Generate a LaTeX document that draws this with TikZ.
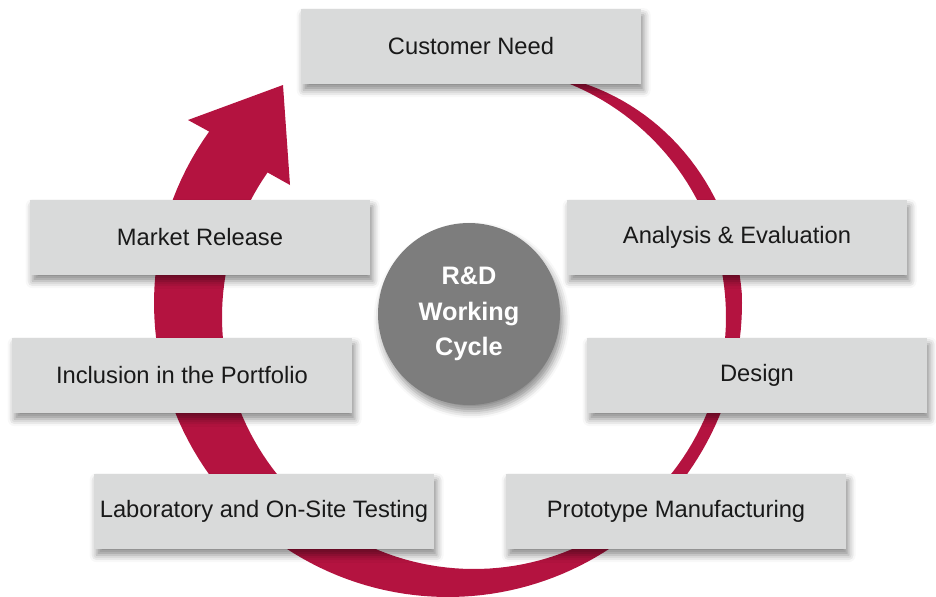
\documentclass[tikz,border=0pt]{standalone}
\usepackage{fontspec}
\setmainfont{Liberation Sans}
\usetikzlibrary{shadows.blur}
\pgfdeclarelayer{background}
\pgfsetlayers{background,main}
\definecolor{ringred}{RGB}{180,19,64}
\definecolor{boxgrey}{RGB}{217,218,218}
\definecolor{hubgrey}{RGB}{125,125,125}
\definecolor{textblack}{RGB}{25,25,25}

\begin{document}
\begin{tikzpicture}[x=0.02cm, y=-0.02cm,
    stage/.style={fill=boxgrey, minimum width=6.8cm, minimum height=1.5cm, inner sep=0pt,
      text=textblack, font=\fontsize{13.5pt}{16pt}\selectfont,
      blur shadow={shadow xshift=1.5pt, shadow yshift=-3.5pt, shadow blur radius=4pt, shadow opacity=45}},
    hub/.style={fill=hubgrey, circle, minimum size=3.64cm, inner sep=0pt, text=white, align=center,
      font=\fontsize{14.4pt}{20pt}\selectfont\bfseries,
      blur shadow={shadow xshift=1.5pt, shadow yshift=-3.5pt, shadow blur radius=4pt, shadow opacity=45}},
    declare function={
      vd(\a)=0.26*cos(\a)-0.14*sin(\a);
      gap(\a)=100*(sqrt(vd(\a)*vd(\a)+8.5564)-vd(\a)-2.52);
      rout(\a)=252+gap(\a)*min(1,(75-\a)/70);
    }]
    \useasboundingbox (0,0) rectangle (936,596);

    \node[stage] (CustomerNeed) at (471,46.5) {Customer Need};

    \node[stage] (MarketRelease) at (200,237.5) {Market Release};
    \node[stage] (Analysis) at (737,237.5) {Analysis \& Evaluation};

    \node[stage] (Portfolio) at (182,375.5) {Inclusion in the Portfolio};
    \node[stage] (Design) at (757,375.5) {Design};

    \node[stage] (Testing) at (264,511.5) {Laboratory and On-Site Testing};
    \node[stage] (Prototype) at (676,511.5) {Prototype Manufacturing};

    \node[hub] (Cycle) at (469,314) {R\&D\\Working\\Cycle};

    % the cycle arrow, behind the boxes
    \begin{pgfonlayer}{background}
      \fill[ringred] plot[domain=75:-215, samples=150] ({474+rout(\x)*cos(\x)}, {317-rout(\x)*sin(\x)})
        -- (188,120) -- (283,85) -- (290,185)
        -- plot[domain=-215:75, samples=150] ({474+252*cos(\x)}, {317-252*sin(\x)}) -- cycle;
    \end{pgfonlayer}
\end{tikzpicture}
\end{document}
